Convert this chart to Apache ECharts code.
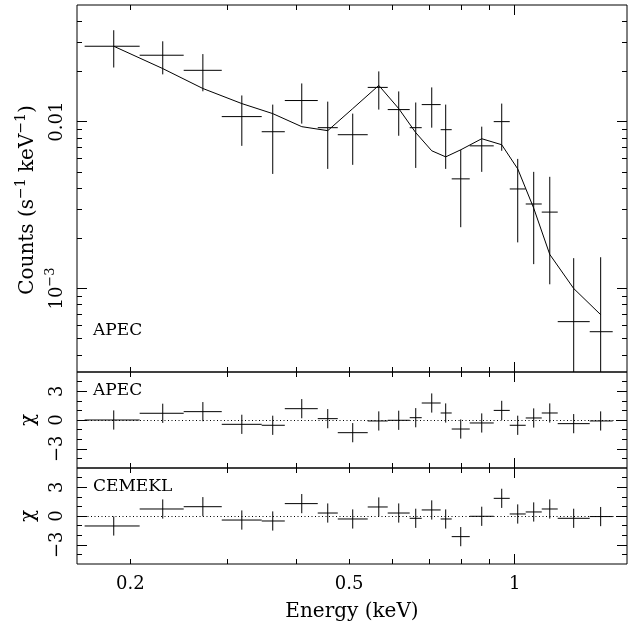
<!DOCTYPE html>
<html><head><meta charset="utf-8">
<script src="https://cdn.jsdelivr.net/npm/echarts@6/dist/echarts.min.js"></script>
<style>html,body{margin:0;padding:0;background:#fff}#c{width:643px;height:628px}</style>
</head><body><div id="c"></div>
<script>
// ---- data ----
const binLow  = [0.1652, 0.2080, 0.2501, 0.2933, 0.3467, 0.3819, 0.4384, 0.4767, 0.5404, 0.5876, 0.6442, 0.6775, 0.7334, 0.7681, 0.8283, 0.9158, 0.9793, 1.0471, 1.1197, 1.1972, 1.3688];
const binHigh = [0.2080, 0.2501, 0.2933, 0.3467, 0.3819, 0.4384, 0.4767, 0.5404, 0.5876, 0.6442, 0.6775, 0.7334, 0.7681, 0.8283, 0.9158, 0.9793, 1.0471, 1.1197, 1.1972, 1.3688, 1.5071];
const energy  = [0.1866, 0.2291, 0.2710, 0.3190, 0.3631, 0.4100, 0.4571, 0.5075, 0.5660, 0.6153, 0.6607, 0.7065, 0.7490, 0.7977, 0.8710, 0.9470, 1.0126, 1.0827, 1.158, 1.280, 1.433];
const counts     = [0.0283, 0.0250, 0.0203, 0.01072, 0.00870, 0.01338, 0.00920, 0.00835, 0.01604, 0.01181, 0.00920, 0.01265, 0.00895, 0.00454, 0.00716, 0.0100, 0.00395, 0.00321, 0.00287, 0.000633, 0.000551];
const countsHigh = [0.0353, 0.0303, 0.0254, 0.01435, 0.01265, 0.01694, 0.01318, 0.01117, 0.0200, 0.01517, 0.01302, 0.01604, 0.01265, 0.00678, 0.00933, 0.01283, 0.00598, 0.00500, 0.00467, 0.00152, 0.00154];
const countsLow  = [0.0211, 0.0192, 0.0152, 0.00716, 0.00486, 0.00973, 0.00521, 0.00551, 0.01181, 0.00823, 0.00528, 0.00920, 0.00521, 0.00233, 0.00500, 0.00669, 0.00189, 0.00140, 0.00106, 0.0001, 0.0001];
const model      = [0.0283, 0.0208, 0.0158, 0.01283, 0.01117, 0.00933, 0.00883, 0.01197, 0.01648, 0.01197, 0.00859, 0.00669, 0.00615, 0.00678, 0.00790, 0.00727, 0.00521, 0.00303, 0.00160, 0.00100, 0.000697];
const chiApec   = [0.0, 0.70, 0.87, -0.45, -0.55, 1.18, 0.14, -1.32, -0.10, -0.03, 0.24, 1.77, 0.73, -0.94, -0.31, 1.00, -0.55, 0.21, 0.73, -0.38, -0.10];
const chiCemekl = [-1.04, 0.73, 0.97, -0.42, -0.52, 1.29, 0.31, -0.31, 0.94, 0.31, -0.24, 0.63, -0.31, -2.15, -0.03, 1.84, 0.21, 0.42, 0.73, -0.24, -0.06];
const chiErr = 1;

// ---- tick labels / tick positions ----
const xMinorTicks = [0.2, 0.3, 0.4, 0.5, 0.6, 0.7, 0.8, 0.9];
const xMajorTicks = [1];
const xTickLabels = [0.2, 0.5, 1];
const yMinorTicks = [0.0004, 0.0005, 0.0006, 0.0007, 0.0008, 0.0009, 0.002, 0.003, 0.004, 0.005, 0.006, 0.007, 0.008, 0.009, 0.02, 0.03, 0.04];
const yMajorTicks = [0.001, 0.01];
const chiMinorTicks = [-4, -2, -1, 1, 2, 4];
const chiMajorTicks = [-3, 0, 3];
const panelLabels = ['APEC', 'APEC', 'CEMEKL'];

const XMIN = 0.16, XMAX = 1.6, YMIN = 0.000316, YMAX = 0.05, CMIN = -5, CMAX = 5;
const FONT = 'DejaVu Serif';
const FS_TICK = 18, FS_TITLE = 20, FS_PANEL = 17;

const chart = echarts.init(document.getElementById('c'), null, {renderer: 'canvas'});

const gridPos = [
  {top: 5, height: 367},
  {top: 372, height: 96},
  {top: 468, height: 96}
];
const grid = gridPos.map(g => ({left: 77, right: 16, top: g.top, height: g.height, show: true,
  borderColor: '#000', borderWidth: 1, backgroundColor: 'transparent', containLabel: false, outerBoundsMode: 'none'}));

const supRich = (fs) => ({
  n: {fontFamily: FONT, fontSize: fs, color: '#000', verticalAlign: 'bottom'},
  s: {fontFamily: FONT, fontSize: Math.round(fs * 0.7), color: '#000', verticalAlign: 'top', padding: [0, 0, Math.round(fs * 0.5), 0]}
});

const tickStyle = {color: '#000', width: 1};
const xAxis = [];
const yAxis = [];
for (let g = 0; g < 3; g++) {
  const base = {type: 'log', logBase: 10, gridIndex: g, min: XMIN, max: XMAX,
    axisLine: {show: false, onZero: false}, splitLine: {show: false}, minorTick: {show: false}};
  ['bottom', 'top'].forEach(pos => {
    const labelled = (g === 2 && pos === 'bottom');
    xAxis.push(Object.assign({}, base, {position: pos,
      axisTick: {show: true, inside: true, length: 5, customValues: xMinorTicks, lineStyle: tickStyle},
      axisLabel: labelled ? {show: true, customValues: xTickLabels, margin: 11, color: '#000',
        fontFamily: FONT, fontSize: FS_TICK, formatter: v => String(+v.toPrecision(3))} : {show: false},
      name: labelled ? 'Energy (keV)' : '', nameLocation: 'middle', nameGap: 38,
      nameTextStyle: {color: '#000', fontFamily: FONT, fontSize: FS_TITLE}}));
    xAxis.push(Object.assign({}, base, {position: pos,
      axisTick: {show: true, inside: true, length: 10, customValues: xMajorTicks, lineStyle: tickStyle},
      axisLabel: {show: false}}));
  });
  const isTop = g === 0;
  const ybase = isTop
    ? {type: 'log', logBase: 10, gridIndex: g, min: YMIN, max: YMAX}
    : {type: 'value', gridIndex: g, min: CMIN, max: CMAX};
  Object.assign(ybase, {axisLine: {show: false, onZero: false}, splitLine: {show: false}, minorTick: {show: false}});
  ['left', 'right'].forEach(pos => {
    const labelled = pos === 'left';
    yAxis.push(Object.assign({}, ybase, {position: pos,
      axisTick: {show: true, inside: true, length: 5, customValues: isTop ? yMinorTicks : chiMinorTicks, lineStyle: tickStyle},
      axisLabel: {show: false}}));
    yAxis.push(Object.assign({}, ybase, {position: pos,
      axisTick: {show: true, inside: true, length: 10, customValues: isTop ? yMajorTicks : chiMajorTicks, lineStyle: tickStyle},
      axisLabel: labelled ? {show: true, customValues: isTop ? yMajorTicks : chiMajorTicks, rotate: 90, margin: 11,
        color: '#000', fontFamily: FONT, fontSize: FS_TICK,
        formatter: v => isTop ? (v > 0.005 ? '{n|0.01}' : '{n|10}{s|−3}') : (v < 0 ? '{n|−' + Math.abs(v) + '}' : '{n|' + v + '}'),
        rich: supRich(FS_TICK)} : {show: false},
      name: (labelled && !isTop) ? 'χ' : '',
      nameLocation: 'middle', nameGap: 38, nameRotate: 90,
      nameTextStyle: {color: '#000', fontFamily: FONT, fontSize: FS_TITLE}}));
  });
}

function errRender(params, api) {
  const e = api.value(0), el = api.value(1), eh = api.value(2);
  const v = api.value(3), vl = api.value(4), vh = api.value(5);
  const a = api.coord([el, v]), b = api.coord([eh, v]);
  const c = api.coord([e, vh]), d = api.coord([e, vl]);
  const cs = params.coordSys;
  const cy = y => Math.min(Math.max(y, cs.y), cs.y + cs.height);
  const st = {stroke: '#000', lineWidth: 1};
  return {type: 'group', children: [
    {type: 'line', shape: {x1: a[0], y1: a[1], x2: b[0], y2: b[1]}, style: st},
    {type: 'line', shape: {x1: c[0], y1: cy(c[1]), x2: d[0], y2: cy(d[1])}, style: st}
  ]};
}

const zeroLine = {silent: true, symbol: 'none', label: {show: false},
  lineStyle: {color: '#000', width: 1, type: [1, 2.5]}, data: [{yAxis: 0}], animation: false};

const series = [
  {type: 'custom', xAxisIndex: 0, yAxisIndex: 0, renderItem: errRender,
   encode: {x: [0, 1, 2], y: [3, 4, 5]},
   data: energy.map((e, i) => [e, binLow[i], binHigh[i], counts[i], countsLow[i], countsHigh[i]])},
  {type: 'line', xAxisIndex: 0, yAxisIndex: 0, symbol: 'none', showSymbol: false,
   lineStyle: {color: '#000', width: 1}, data: energy.map((e, i) => [e, model[i]])},
  {type: 'custom', xAxisIndex: 4, yAxisIndex: 4, renderItem: errRender,
   encode: {x: [0, 1, 2], y: [3, 4, 5]}, markLine: zeroLine,
   data: energy.map((e, i) => [e, binLow[i], binHigh[i], chiApec[i], chiApec[i] - chiErr, chiApec[i] + chiErr])},
  {type: 'custom', xAxisIndex: 8, yAxisIndex: 8, renderItem: errRender,
   encode: {x: [0, 1, 2], y: [3, 4, 5]}, markLine: zeroLine,
   data: energy.map((e, i) => [e, binLow[i], binHigh[i], chiCemekl[i], chiCemekl[i] - chiErr, chiCemekl[i] + chiErr])}
];

const labelTops = [322, 382, 478];
const graphic = panelLabels.map((t, i) => ({type: 'text', left: 93, top: labelTops[i], silent: true,
  style: {text: t, fontFamily: FONT, fontSize: FS_PANEL, fill: '#000'}}));
graphic.push({type: 'text', x: 26, y: 200, rotation: Math.PI / 2, silent: true,
  style: {text: '{n|Counts (s}{s|−1}{n| keV}{s|−1}{n|)}', align: 'center', verticalAlign: 'middle',
    rich: supRich(FS_TITLE)}});

chart.setOption({animation: false, backgroundColor: '#fff', grid, xAxis, yAxis, series, graphic});
</script></body></html>
